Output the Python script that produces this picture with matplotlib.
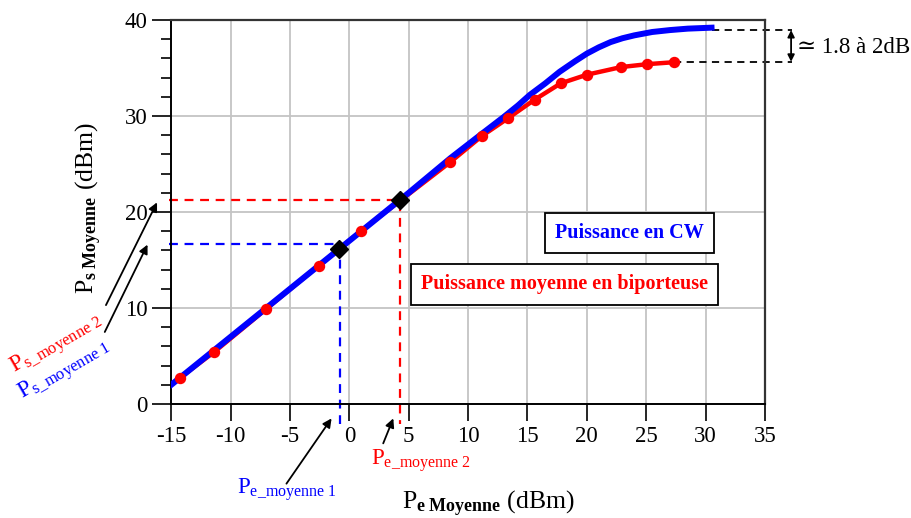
import matplotlib
matplotlib.use("Agg")
import matplotlib.pyplot as plt
from matplotlib.ticker import MultipleLocator

plt.rcParams['font.family'] = ['Liberation Serif', 'DejaVu Serif']
plt.rcParams['mathtext.fontset'] = 'custom'
plt.rcParams['mathtext.rm'] = 'Liberation Serif'
plt.rcParams['mathtext.it'] = 'Liberation Serif:italic'
plt.rcParams['mathtext.bf'] = 'Liberation Serif:bold'

# puissance en CW (courbe continue)
pe_cw = [-15, -10, -5, 0, 5, 8.5, 11, 13, 14.2, 15.2, 16.5, 17.7, 19, 20, 21, 22,
         23, 24, 25.5, 27, 28.5, 30.5]
ps_cw = [2.0, 7.0, 12.0, 17.0, 22.0, 25.6, 28.0, 29.9, 31.1, 32.2, 33.4, 34.6,
         35.7, 36.5, 37.15, 37.7, 38.1, 38.4, 38.75, 38.95, 39.1, 39.2]

# puissance moyenne en biporteuse (points mesures)
pe_bi = [-14.3, -11.4, -7.0, -2.6, 1.0, 8.5, 11.2, 13.4, 15.6, 17.8, 20.0, 22.9, 25.1, 27.3]
ps_bi = [2.7, 5.4, 9.9, 14.4, 18.05, 25.2, 27.95, 29.8, 31.7, 33.4, 34.3, 35.1, 35.4, 35.6]

# points de fonctionnement moyens
pe_moy = [-0.85, 4.3]
ps_moy = [16.1, 21.25]

# reperes en pointilles (x_coin, y_coin)
rep_cw = (-0.8, 16.7)
rep_bi = (4.3, 21.2)
x_gauche = -15.2
y_bas = -2.1

# ecart de compression
ps_sat_cw = 38.95
ps_sat_bi = 35.65
x_ecart = 37.2

fig = plt.figure(figsize=(9.11, 5.18), dpi=100)
ax = fig.add_axes([0.188, 0.2201, 0.6517, 0.7413])

ax.set_xlim(-15, 35)
ax.set_ylim(0, 40)
ax.xaxis.set_major_locator(MultipleLocator(5))
ax.yaxis.set_major_locator(MultipleLocator(10))
ax.yaxis.set_minor_locator(MultipleLocator(2))
ax.grid(True, which='major', color='#c4c4c4', lw=1.3)
ax.set_axisbelow(True)
ax.tick_params(axis='x', which='major', direction='out', length=12, width=1.2,
               labelsize=16.5, pad=4)
ax.tick_params(axis='y', which='major', direction='out', length=14, width=1.2,
               labelsize=16.5, pad=3)
ax.tick_params(axis='y', which='minor', direction='out', length=7, width=1.2)
ax.set_xticks(range(-15, 36, 5))
ax.set_xticklabels([str(v) for v in range(-15, 36, 5)])
for s in ['left', 'bottom']:
    ax.spines[s].set_linewidth(1.4)
    ax.spines[s].set_color('black')
for s in ['top', 'right']:
    ax.spines[s].set_linewidth(1.6)
    ax.spines[s].set_color('#333333')

# courbes
ax.plot(pe_bi, ps_bi, color='red', lw=3.2, zorder=3, solid_capstyle='round')
ax.plot(pe_cw, ps_cw, color='blue', lw=4.3, zorder=4, solid_joinstyle='round')
ax.plot(pe_bi, ps_bi, 'o', color='red', ms=7.2, zorder=5)
ax.plot(pe_moy, ps_moy, 'D', color='black', ms=9, zorder=6)

# pointilles vers les axes
dash = (0, (4, 3))
ax.plot([x_gauche, rep_cw[0], rep_cw[0]], [rep_cw[1], rep_cw[1], y_bas],
        color='blue', lw=1.6, ls=dash, clip_on=False, zorder=2)
ax.plot([x_gauche, rep_bi[0], rep_bi[0]], [rep_bi[1], rep_bi[1], y_bas],
        color='red', lw=1.6, ls=dash, clip_on=False, zorder=2)

# ecart entre les deux saturations
ax.plot([pe_cw[-1], x_ecart + 0.1], [ps_sat_cw, ps_sat_cw], color='black', lw=1.3,
        ls=dash, clip_on=False)
ax.plot([pe_bi[-1], x_ecart + 0.1], [ps_sat_bi, ps_sat_bi], color='black', lw=1.3,
        ls=dash, clip_on=False)
ax.annotate('', xy=(x_ecart, ps_sat_cw), xytext=(x_ecart, ps_sat_bi),
            arrowprops=dict(arrowstyle='<|-|>', color='black', lw=1.3,
                            mutation_scale=10, shrinkA=0, shrinkB=0),
            annotation_clip=False)
ax.text(x_ecart + 0.5, (ps_sat_cw + ps_sat_bi) / 2 - 0.2, '≃ 1.8 à 2dB', fontsize=16.5,
        ha='left', va='center', clip_on=False)

# fleches vers les reperes
fleche = dict(arrowstyle='-|>', color='black', lw=1.3, mutation_scale=13,
              shrinkA=0, shrinkB=0)
ax.annotate('', xy=(-16.2, 21.0), xytext=(-20.5, 10.3), arrowprops=fleche,
            annotation_clip=False)
ax.annotate('', xy=(-17.0, 16.6), xytext=(-20.6, 7.5), arrowprops=fleche,
            annotation_clip=False)
ax.annotate('', xy=(-1.5, -1.5), xytext=(-5.3, -8.3), arrowprops=fleche,
            annotation_clip=False)
ax.annotate('', xy=(3.7, -1.5), xytext=(2.85, -4.1), arrowprops=fleche,
            annotation_clip=False)

# etiquettes des reperes
ax.text(-28.25, 3.2, r'$\mathrm{P}_{\mathrm{s\_moyenne\ 2}}$', color='red',
        fontsize=17, rotation=30, rotation_mode='anchor', ha='left',
        va='baseline', clip_on=False)
ax.text(-27.55, 0.55, r'$\mathrm{P}_{\mathrm{s\_moyenne\ 1}}$', color='blue',
        fontsize=17, rotation=30, rotation_mode='anchor', ha='left',
        va='baseline', clip_on=False)
ax.text(-9.45, -9.3, r'$\mathrm{P}_{\mathrm{e\_moyenne\ 1}}$', color='blue',
        fontsize=16.5, ha='left', va='baseline', clip_on=False)
ax.text(1.85, -6.35, r'$\mathrm{P}_{\mathrm{e\_moyenne\ 2}}$', color='red',
        fontsize=16.5, ha='left', va='baseline', clip_on=False)

# legendes encadrees
ax.text(23.6, 17.8, 'Puissance en CW', color='blue', fontsize=14.5,
        fontweight='bold', ha='center', va='center', zorder=7,
        bbox=dict(boxstyle='square,pad=0.5', fc='white', ec='black', lw=1.3))
ax.text(18.1, 12.45, 'Puissance moyenne en biporteuse', color='red', fontsize=14.5,
        fontweight='bold', ha='center', va='center', zorder=7,
        bbox=dict(boxstyle='square,pad=0.5', fc='white', ec='black', lw=1.3))

ax.set_xlabel(r'$\mathrm{P}_{\mathbf{e\ Moyenne}}$ (dBm)', fontsize=18.5)
ax.xaxis.set_label_coords(0.535, -0.222)
ax.xaxis.label.set_va('top')
ax.set_ylabel(r'$\mathrm{P}_{\mathbf{s\ Moyenne}}$ (dBm)', fontsize=18.5)
ax.yaxis.set_label_coords(-0.113, 0.51)

fig.savefig('out.png', dpi=100)
